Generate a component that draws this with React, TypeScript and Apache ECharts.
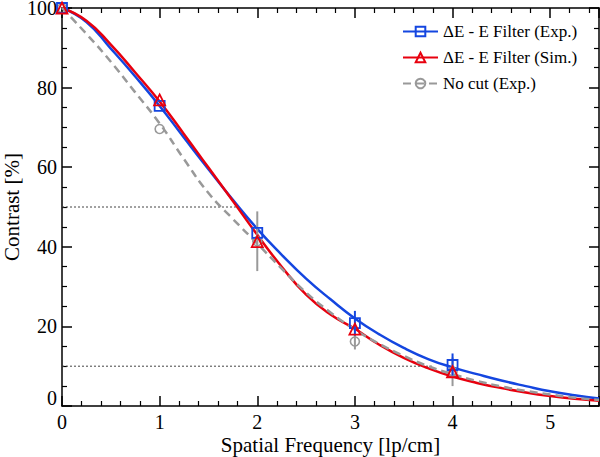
import React, { useEffect, useRef } from "react";
import * as echarts from "echarts";

const FONT = "'Liberation Serif', 'Times New Roman', serif";

const blueName = "ΔE - E Filter (Exp.)";
const redName = "ΔE - E Filter (Sim.)";
const grayName = "No cut (Exp.)";

// fitted curves
const curveX = [0, 0.25, 0.5, 0.75, 1, 1.25, 1.5, 1.75, 2, 2.25, 2.5, 2.75, 3, 3.25, 3.5, 3.75, 4, 4.25, 4.5, 4.75, 5, 5.25, 5.5];
const blueFit = [100, 96.5, 89.8, 82.8, 75.4, 67.4, 59.5, 51.8, 44.5, 38.0, 32.0, 26.8, 22.0, 18.0, 14.6, 11.8, 9.7, 8.0, 6.4, 5.0, 3.7, 2.7, 1.9];
const redFit = [100, 96.8, 90.8, 83.8, 76.5, 68.3, 59.9, 51.5, 43.0, 35.0, 28.0, 23.0, 19.4, 15.4, 12.1, 9.5, 7.4, 5.8, 4.5, 3.4, 2.5, 1.8, 1.3];
const grayFit = [100, 93.5, 86.5, 78.8, 71.0, 62.0, 53.5, 47.0, 40.8, 34.5, 28.5, 23.5, 19.2, 15.6, 12.6, 10.0, 8.0, 6.3, 4.9, 3.8, 2.9, 2.1, 1.5];

// measured points
const pointX = [0, 1, 2, 3, 4];
const blueExp = [100, 75.4, 43.5, 20.8, 10.3];
const blueErr = [0, 0, 0, 3.1, 2.9];
const redSim = [100, 76.9, 41.3, 19.3, 8.6];
const grayExp = [100, 69.6, 41.4, 16.2, 8.6];
const grayErr = [0, 0, 7.5, 2.0, 3.6];

// reference levels
const level50 = [[0, 50], [1.78, 50]];
const level10 = [[0, 10], [3.8, 10]];

const BLUE = "#1446e0";
const RED = "#e8000e";
const GRAY = "#999999";

function pairs(xs: number[], ys: number[]) {
  return xs.map((x, i) => [x, ys[i]]);
}

function errData(xs: number[], ys: number[], es: number[]) {
  return xs
    .map((x, i) => [x, ys[i] - es[i], ys[i] + es[i]])
    .filter((d) => d[2] > d[1]);
}

function errSeries(data: number[][], color: string, z: number) {
  return {
    type: "custom",
    z,
    silent: true,
    data,
    encode: { x: 0, y: [1, 2] },
    renderItem: (params: any, api: any) => {
      const x = api.value(0);
      const p1 = api.coord([x, api.value(1)]);
      const p2 = api.coord([x, api.value(2)]);
      return {
        type: "line",
        shape: { x1: p1[0], y1: p1[1], x2: p2[0], y2: p2[1] },
        style: { stroke: color, lineWidth: 2 },
      };
    },
  };
}

const tickStyle = { color: "#000", width: 1.5 };

function xAxisDef(pos: "bottom" | "top") {
  return {
    type: "value",
    position: pos,
    min: 0,
    max: 5.5,
    interval: 1,
    axisLine: { show: true, onZero: false, lineStyle: { color: "#000", width: 1.5 } },
    axisTick: { show: true, inside: true, length: 10, lineStyle: tickStyle },
    minorTick: { show: true, splitNumber: 5, length: 5, lineStyle: { color: "#000", width: 1.2 } },
    splitLine: { show: false },
    axisLabel: {
      show: pos === "bottom",
      fontFamily: FONT,
      fontSize: 20,
      lineHeight: 18,
      color: "#000",
      margin: 7,
      formatter: (v: number) => (Number.isInteger(v) ? String(v) : ""),
    },
    name: pos === "bottom" ? "Spatial Frequency [lp/cm]" : "",
    nameLocation: "middle",
    nameGap: 29,
    nameMoveOverlap: false,
    nameTextStyle: { fontFamily: FONT, fontSize: 21, lineHeight: 19, color: "#000" },
  };
}

function yAxisDef(pos: "left" | "right") {
  return {
    type: "value",
    position: pos,
    min: 0,
    max: 100,
    interval: 20,
    axisLine: { show: true, onZero: false, lineStyle: { color: "#000", width: 1.5 } },
    axisTick: { show: true, inside: true, length: 10, lineStyle: tickStyle },
    minorTick: { show: true, splitNumber: 4, length: 5, lineStyle: { color: "#000", width: 1.2 } },
    splitLine: { show: false },
    axisLabel: {
      show: pos === "left",
      fontFamily: FONT,
      fontSize: 20,
      lineHeight: 16,
      color: "#000",
      margin: 5,
      verticalAlignMinLabel: "bottom",
    },
    name: pos === "left" ? "Contrast [%]" : "",
    nameLocation: "middle",
    nameGap: 40,
    nameMoveOverlap: false,
    nameTextStyle: { fontFamily: FONT, fontSize: 21, color: "#000" },
  };
}

export default function App() {
  const ref = useRef<HTMLDivElement>(null);
  useEffect(() => {
    if (!ref.current) return;
    const chart = echarts.init(ref.current, undefined, { renderer: "svg" });
    const option: any = {
      animation: false,
      backgroundColor: "#fff",
      grid: { left: 62, right: 1, top: 8, bottom: 51, containLabel: false, outerBoundsMode: "none" },
      xAxis: [xAxisDef("bottom"), xAxisDef("top")],
      yAxis: [yAxisDef("left"), yAxisDef("right")],
      legend: {
        data: [blueName, redName, grayName],
        orient: "vertical",
        left: 397,
        top: 18,
        itemWidth: 35,
        itemHeight: 12,
        itemGap: 9,
        textStyle: { fontFamily: FONT, fontSize: 17, color: "#000" },
      },
      series: [
        {
          name: "level50",
          type: "line",
          data: level50,
          showSymbol: false,
          silent: true,
          lineStyle: { color: "#444", width: 1, type: [2, 2] },
          z: 1,
        },
        {
          name: "level10",
          type: "line",
          data: level10,
          showSymbol: false,
          silent: true,
          lineStyle: { color: "#444", width: 1, type: [2, 2] },
          z: 1,
        },
        {
          name: blueName,
          type: "line",
          data: pairs(curveX, blueFit),
          smooth: true,
          showSymbol: false,
          symbol: "rect",
          color: BLUE,
          lineStyle: { color: BLUE, width: 2.5 },
          itemStyle: { color: "rgba(0,0,0,0)", borderColor: BLUE, borderWidth: 1.6 },
          z: 2,
        },
        {
          name: redName,
          type: "line",
          data: pairs(curveX, redFit),
          smooth: true,
          showSymbol: false,
          symbol: "triangle",
          color: RED,
          lineStyle: { color: RED, width: 2.5 },
          itemStyle: { color: "rgba(0,0,0,0)", borderColor: RED, borderWidth: 1.6 },
          z: 3,
        },
        {
          name: grayName,
          type: "line",
          data: pairs(curveX, grayFit),
          smooth: true,
          showSymbol: false,
          symbol: "circle",
          color: GRAY,
          lineStyle: { color: GRAY, width: 2.5, type: [8, 5] },
          itemStyle: { color: "rgba(0,0,0,0)", borderColor: GRAY, borderWidth: 1.6 },
          z: 4,
        },
        errSeries(errData(pointX, grayExp, grayErr), GRAY, 5),
        errSeries(errData(pointX, blueExp, blueErr), BLUE, 6),
        {
          name: "grayPts",
          type: "line",
          data: pairs(pointX, grayExp),
          lineStyle: { width: 0, opacity: 0 },
          symbol: "circle",
          symbolSize: 9,
          itemStyle: { color: "rgba(0,0,0,0)", borderColor: GRAY, borderWidth: 1.6 },
          z: 7,
        },
        {
          name: "bluePts",
          type: "line",
          data: pairs(pointX, blueExp),
          lineStyle: { width: 0, opacity: 0 },
          symbol: "rect",
          symbolSize: 10,
          itemStyle: { color: "rgba(0,0,0,0)", borderColor: BLUE, borderWidth: 1.8 },
          z: 8,
        },
        {
          name: "redPts",
          type: "line",
          data: pairs(pointX, redSim),
          lineStyle: { width: 0, opacity: 0 },
          symbol: "triangle",
          symbolSize: 11,
          itemStyle: { color: "rgba(0,0,0,0)", borderColor: RED, borderWidth: 1.8 },
          z: 9,
        },
      ],
    };
    chart.setOption(option);
    return () => chart.dispose();
  }, []);
  return <div ref={ref} style={{ width: 600, height: 457, position: "absolute", left: 0, top: 0 }} />;
}
